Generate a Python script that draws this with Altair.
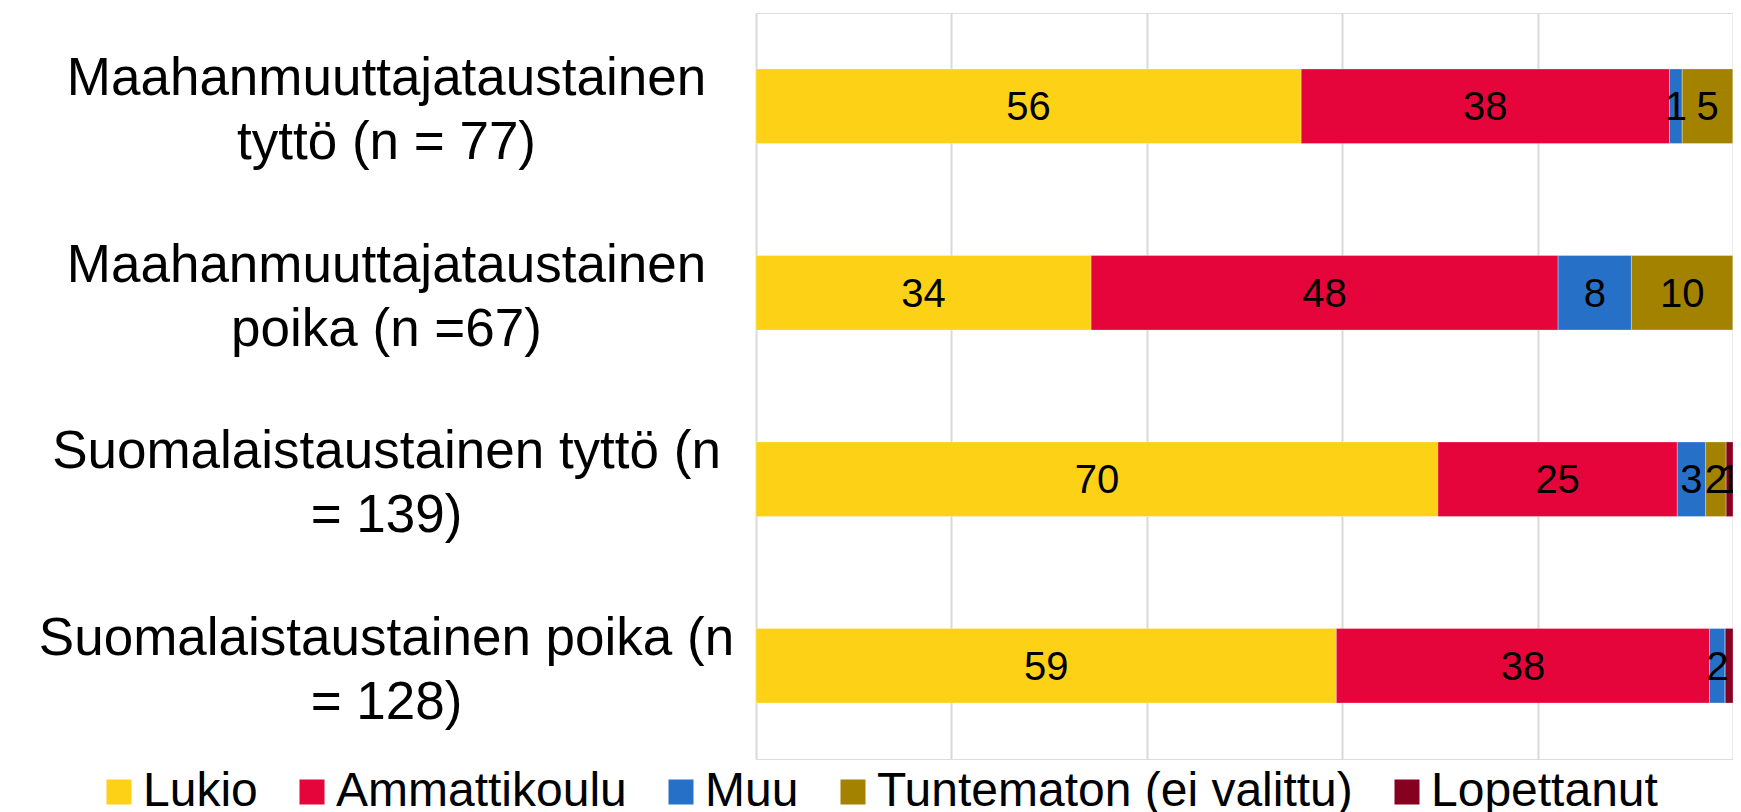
import altair as alt
import pandas as pd

# ---- data ----
categories = [
    "Maahanmuuttajataustainen|tyttö (n = 77)",
    "Maahanmuuttajataustainen|poika (n =67)",
    "Suomalaistaustainen tyttö (n|= 139)",
    "Suomalaistaustainen poika (n|= 128)",
]
series = ["Lukio", "Ammattikoulu", "Muu", "Tuntematon (ei valittu)", "Lopettanut"]
colors = ["#FCD116", "#E5053A", "#2770C8", "#A38200", "#86001F"]

lukio = [55.8, 34.3, 69.8, 59.4]
ammattikoulu = [37.7, 47.8, 24.5, 38.2]
muu = [1.3, 7.5, 2.9, 1.6]
tuntematon = [5.2, 10.4, 2.1, 0.0]
lopettanut = [0.0, 0.0, 0.7, 0.8]

lukio_lbl = ["56", "34", "70", "59"]
ammattikoulu_lbl = ["38", "48", "25", "38"]
muu_lbl = ["1", "8", "3", "2"]
tuntematon_lbl = ["5", "10", "2", ""]
lopettanut_lbl = ["", "", "1", ""]

values = [lukio, ammattikoulu, muu, tuntematon, lopettanut]
labels = [lukio_lbl, ammattikoulu_lbl, muu_lbl, tuntematon_lbl, lopettanut_lbl]

rows = []
for si, s in enumerate(series):
    for ci, c in enumerate(categories):
        rows.append({"group": c, "series": s, "order": si,
                     "value": values[si][ci], "label": labels[si][ci]})
df = pd.DataFrame(rows)

FONT = "Liberation Sans"

base = alt.Chart(df).transform_stack(
    stack="value", groupby=["group"], sort=[alt.SortField("order")], as_=["x0", "x1"]
).transform_calculate(mid="(datum.x0 + datum.x1) / 2")

yenc = alt.Y(
    "group:N", sort=categories, title=None,
    scale=alt.Scale(paddingInner=0.6, paddingOuter=0.3),
    axis=alt.Axis(
        domain=False, ticks=False, labelFontSize=53, labelFont=FONT,
        labelColor="#000000", labelAlign="center", labelBaseline="middle",
        labelPadding=370, labelLineHeight=64, labelLimit=0, labelOffset=-27,
        labelExpr="split(datum.label, '|')",
    ),
)

xscale = alt.Scale(domain=[0, 100], nice=False, zero=True)
xaxis = alt.Axis(
    values=[0, 20, 40, 60, 80, 100], labels=False, ticks=False, domain=False,
    grid=True, gridColor="#D9D9D9", gridWidth=2, title=None,
)

bars = base.mark_bar(stroke="#ffffff", strokeWidth=0.6, strokeOpacity=0.5).encode(
    x=alt.X("x0:Q", scale=xscale, axis=xaxis),
    x2="x1:Q",
    y=yenc,
    color=alt.Color(
        "series:N",
        scale=alt.Scale(domain=series, range=colors),
        legend=alt.Legend(
            title=None, orient="none", legendX=-661, legendY=755,
            direction="horizontal", columns=5, symbolType="square",
            symbolSize=625, symbolStrokeWidth=0, labelFontSize=48,
            labelFont=FONT, labelColor="#000000", labelOffset=0,
            columnPadding=30, padding=0, labelLimit=0,
        ),
    ),
    order=alt.Order("order:Q"),
)

text = base.transform_filter("datum.label != ''").mark_text(
    fontSize=40, font=FONT, color="#000000", align="center", baseline="middle", dy=2
).encode(
    x=alt.X("mid:Q", scale=xscale),
    y=alt.Y("group:N", sort=categories),
    text="label:N",
)

chart = alt.layer(bars, text).properties(
    width=977, height=746,
    padding={"left": 748, "top": 5, "right": 0, "bottom": 53},
    autosize=alt.AutoSizeParams(type="none"),
    background="#ffffff",
).configure_view(stroke=None).configure(font=FONT)

chart.save("out.html", embed_options={"renderer": "svg", "actions": False})
